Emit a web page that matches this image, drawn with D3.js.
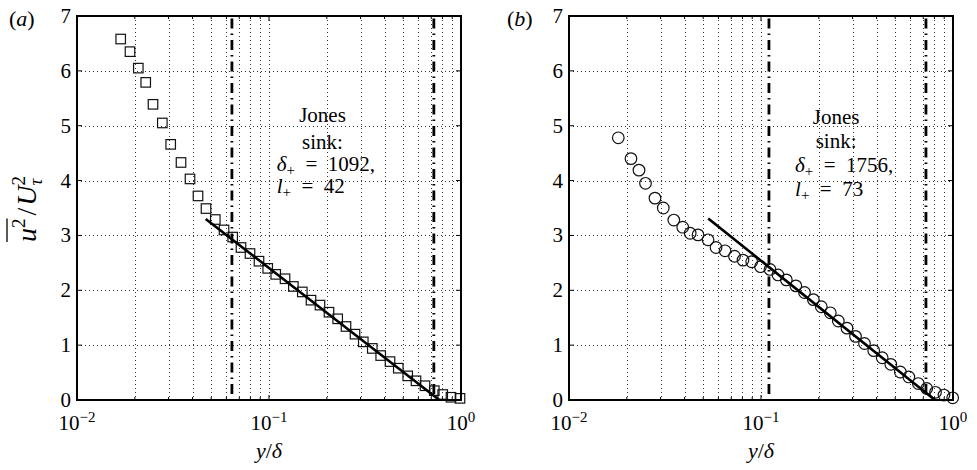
<!DOCTYPE html>
<html>
<head>
<meta charset="utf-8">
<script src="https://cdn.jsdelivr.net/npm/d3@7"></script>
<style>
  body { margin: 0; background: #fff; }
  text { font-family: "Liberation Serif", "Times New Roman", serif; fill: #000; }
</style>
</head>
<body>
<svg id="fig" width="977" height="470"></svg>
<script>
// ---- Panel (a): streamwise variance, square markers ----
const xA = [0.01689, 0.01888, 0.02086, 0.02280, 0.02488, 0.02782, 0.03076, 0.03481, 0.03878, 0.04268,
            0.04698, 0.05252, 0.05831, 0.06470, 0.07148, 0.07962, 0.08869, 0.09845, 0.1084, 0.1212,
            0.1339, 0.1491, 0.1655, 0.1843, 0.2053, 0.2279, 0.2518, 0.2805, 0.3098, 0.3451,
            0.3817, 0.4268, 0.4714, 0.5278, 0.5831, 0.6494, 0.7260, 0.8030, 0.8869, 0.9881];
const yA = [6.58, 6.35, 6.05, 5.79, 5.39, 5.05, 4.66, 4.33, 4.03, 3.72,
            3.49, 3.29, 3.10, 2.97, 2.78, 2.67, 2.53, 2.40, 2.29, 2.21,
            2.07, 1.97, 1.82, 1.73, 1.60, 1.48, 1.34, 1.20, 1.06, 0.94,
            0.81, 0.70, 0.58, 0.44, 0.35, 0.26, 0.17, 0.10, 0.05, 0.03];

// ---- Panel (b): circle markers ----
const xB = [0.01806, 0.02103, 0.02315, 0.02503, 0.02805, 0.03098, 0.03514, 0.03911, 0.04278, 0.04698,
            0.05297, 0.05831, 0.06494, 0.07278, 0.08058, 0.08945, 0.09940, 0.1114, 0.1226, 0.1355,
            0.1519, 0.1685, 0.1873, 0.2061, 0.2296, 0.2527, 0.2805, 0.3106, 0.3459, 0.3864,
            0.4278, 0.4743, 0.5316, 0.5888, 0.6598, 0.7295, 0.8107, 0.8977, 0.9964];
const yB = [4.78, 4.40, 4.19, 3.95, 3.68, 3.50, 3.28, 3.15, 3.04, 3.01,
            2.92, 2.78, 2.72, 2.62, 2.55, 2.52, 2.43, 2.38, 2.28, 2.19,
            2.08, 1.96, 1.83, 1.70, 1.59, 1.44, 1.31, 1.16, 1.03, 0.90,
            0.77, 0.65, 0.51, 0.42, 0.30, 0.21, 0.14, 0.09, 0.04];

// Log-law fit segments (end points)
const fitAx = [0.0468, 0.771], fitAy = [3.30, 0];
const fitBx = [0.0531, 0.805], fitBy = [3.31, 0];

// Vertical dash-dot markers bounding the fit region
const vlinesA = [0.0641, 0.722];
const vlinesB = [0.110, 0.723];

// Axes ticks
const yTickValues = [0, 1, 2, 3, 4, 5, 6, 7];
const xTickExponents = [-2, -1, 0];

// Annotations
const deltaPlusA = "1092", lPlusA = "42";
const deltaPlusB = "1756", lPlusB = "73";

const svg = d3.select("#fig");

function drawPanel(opt) {
  const x = d3.scaleLog().domain([0.01, 1]).range([opt.left, opt.right]);
  const y = d3.scaleLinear().domain([0, 7]).range([opt.bottom, opt.top]);
  const g = svg.append("g");

  // decade sub-divisions used for grid and ticks
  const minorX = [];
  [-2, -1].forEach(d => { for (let k = 1; k <= 9; k++) minorX.push(k * Math.pow(10, d)); });
  minorX.push(1);
  const innerX = minorX.filter(v => v > 0.0101 && v < 0.99);

  // dotted grid
  const grid = g.append("g").attr("stroke", "#333").attr("stroke-width", 1)
    .attr("stroke-dasharray", "1,3").attr("fill", "none");
  innerX.forEach(v => {
    const px = Math.round(x(v)) + 0.5;
    grid.append("line").attr("x1", px).attr("x2", px).attr("y1", opt.top).attr("y2", opt.bottom);
  });
  yTickValues.filter(v => v > 0 && v < 7).forEach(v => {
    const py = Math.round(y(v)) + 0.5;
    grid.append("line").attr("x1", opt.left).attr("x2", opt.right).attr("y1", py).attr("y2", py);
  });

  // dash-dot vertical lines
  opt.vlines.forEach(v => {
    g.append("line").attr("x1", x(v)).attr("x2", x(v))
      .attr("y1", y(0) - 6).attr("y2", y(7))
      .attr("stroke", "#000").attr("stroke-width", 2.8)
      .attr("stroke-dasharray", "10,5,1.5,5");
  });

  // markers
  const pts = opt.xs.map((v, i) => [v, opt.ys[i]]);
  if (opt.marker === "square") {
    const s = 9.5;
    g.append("g").selectAll("rect").data(pts).join("rect")
      .attr("x", d => x(d[0]) - s / 2).attr("y", d => y(d[1]) - s / 2)
      .attr("width", s).attr("height", s)
      .attr("fill", "none").attr("stroke", "#111").attr("stroke-width", 1.2);
  } else {
    g.append("g").selectAll("circle").data(pts).join("circle")
      .attr("cx", d => x(d[0])).attr("cy", d => y(d[1])).attr("r", 5.8)
      .attr("fill", "none").attr("stroke", "#111").attr("stroke-width", 1.2);
  }

  // fit line
  g.append("line")
    .attr("x1", x(opt.fitx[0])).attr("y1", y(opt.fity[0]))
    .attr("x2", x(opt.fitx[1])).attr("y2", y(opt.fity[1]))
    .attr("stroke", "#000").attr("stroke-width", 2.6);

  // inward ticks on all four sides
  const tk = g.append("g").attr("stroke", "#000").attr("stroke-width", 1);
  innerX.forEach(v => {
    const major = Math.abs(Math.log10(v) - Math.round(Math.log10(v))) < 1e-9;
    const L = major ? 5 : 3;
    tk.append("line").attr("x1", x(v)).attr("x2", x(v)).attr("y1", opt.bottom).attr("y2", opt.bottom - L);
    tk.append("line").attr("x1", x(v)).attr("x2", x(v)).attr("y1", opt.top).attr("y2", opt.top + L);
  });
  yTickValues.forEach(v => {
    tk.append("line").attr("x1", opt.left).attr("x2", opt.left + 5).attr("y1", y(v)).attr("y2", y(v));
    tk.append("line").attr("x1", opt.right).attr("x2", opt.right - 5).attr("y1", y(v)).attr("y2", y(v));
  });

  // box
  g.append("rect").attr("x", opt.left).attr("y", opt.top)
    .attr("width", opt.right - opt.left).attr("height", opt.bottom - opt.top)
    .attr("fill", "none").attr("stroke", "#000").attr("stroke-width", 2);

  // y tick labels
  yTickValues.forEach(v => {
    g.append("text").attr("x", opt.left - 6).attr("y", y(v) + 7)
      .attr("text-anchor", "end").attr("font-size", 21).text(v);
  });

  // x tick labels 10^n
  xTickExponents.forEach(e => {
    const t = g.append("text").attr("x", x(Math.pow(10, e))).attr("y", opt.bottom + 30)
      .attr("text-anchor", "middle").attr("font-size", 21);
    t.append("tspan").text("10");
    t.append("tspan").attr("font-size", 15).attr("dy", -8).text(e === 0 ? "0" : "\u2212" + Math.abs(e));
  });

  // x axis label y/δ
  const xl = g.append("text").attr("x", (opt.left + opt.right) / 2).attr("y", opt.bottom + 58)
    .attr("text-anchor", "middle").attr("font-size", 22);
  xl.append("tspan").attr("font-style", "italic").text("y");
  xl.append("tspan").text("/");
  xl.append("tspan").attr("font-style", "italic").text("\u03b4");

  // panel tag
  const tag = g.append("text").attr("x", opt.tagX).attr("y", 26).attr("font-size", 22);
  tag.append("tspan").text("(");
  tag.append("tspan").attr("font-style", "italic").text(opt.tag);
  tag.append("tspan").text(")");

  // annotation block, one text element with four lines
  const a = opt.note;
  const nt = g.append("text").attr("font-size", 21);
  nt.append("tspan").attr("x", x(a.cx)).attr("y", y(a.y[0])).attr("text-anchor", "middle").text("Jones");
  nt.append("tspan").attr("x", x(a.cx)).attr("y", y(a.y[1])).attr("text-anchor", "middle").text("sink:");
  nt.append("tspan").attr("x", x(a.lx)).attr("y", y(a.y[2])).attr("font-style", "italic").text("\u03b4");
  nt.append("tspan").attr("font-size", 15).attr("dy", 4).text("+");
  nt.append("tspan").attr("dy", -4).text("\u2002=\u2002" + a.d + ",");
  nt.append("tspan").attr("x", x(a.lx)).attr("y", y(a.y[3])).attr("font-style", "italic").text("l");
  nt.append("tspan").attr("font-size", 15).attr("dy", 4).text("+");
  nt.append("tspan").attr("dy", -4).text("\u2002=\u2002" + a.l);
}

drawPanel({
  left: 77, right: 461, top: 16, bottom: 400,
  xs: xA, ys: yA, marker: "square",
  fitx: fitAx, fity: fitAy, vlines: vlinesA,
  tag: "a", tagX: 9,
  note: { cx: 0.190, lx: 0.1097, y: [5.06, 4.57, 4.17, 3.77], d: deltaPlusA, l: lPlusA }
});
drawPanel({
  left: 569, right: 953, top: 16, bottom: 400,
  xs: xB, ys: yB, marker: "circle",
  fitx: fitBx, fity: fitBy, vlines: vlinesB,
  tag: "b", tagX: 507,
  note: { cx: 0.246, lx: 0.1504, y: [5.03, 4.59, 4.16, 3.72], d: deltaPlusB, l: lPlusB }
});

// y-axis label: overline(u^2) / U_tau^2
const yl = svg.append("g").attr("transform", "translate(36,209) rotate(-90)");
const ylt = yl.append("text").attr("text-anchor", "middle").attr("font-size", 28);
ylt.append("tspan").attr("font-style", "italic").text("u");
ylt.append("tspan").attr("font-size", 19).attr("dy", -11).text("2");
ylt.append("tspan").attr("dy", 11).attr("dx", 3).text("/");
ylt.append("tspan").attr("font-style", "italic").attr("dx", 2).text("U");
const sup2 = ylt.append("tspan").attr("font-size", 19).attr("dy", -11).text("2");
const w2 = sup2.node().getComputedTextLength();
ylt.append("tspan").attr("font-style", "italic").attr("font-size", 19)
  .attr("dx", -w2).attr("dy", 17).text("\u03c4");
// overline across u^2
const n = ylt.node();
const e0 = n.getExtentOfChar(0), e1 = n.getExtentOfChar(1);
yl.append("line").attr("x1", e0.x).attr("x2", e1.x + e1.width)
  .attr("y1", -29).attr("y2", -29).attr("stroke", "#000").attr("stroke-width", 1.3);
</script>
</body>
</html>
